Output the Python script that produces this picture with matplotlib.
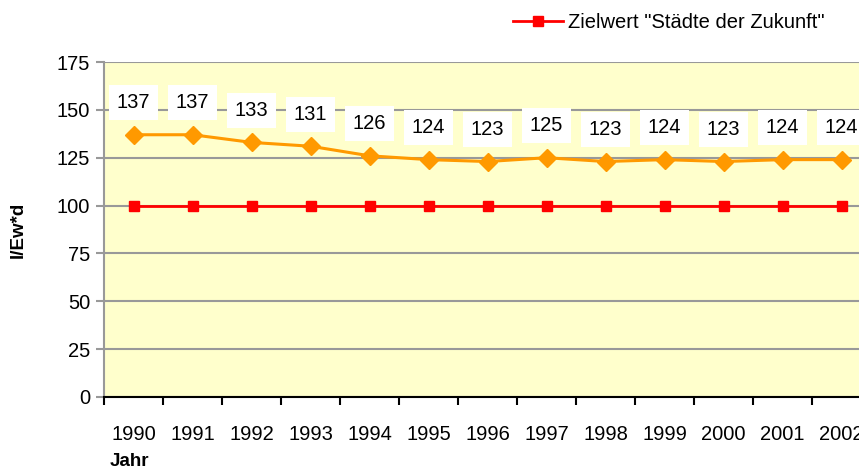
import numpy as np
import matplotlib
matplotlib.use("Agg")
import matplotlib.pyplot as plt

plt.rcParams['font.family'] = ['Liberation Sans', 'DejaVu Sans']

# Daten
jahre = ["1990", "1991", "1992", "1993", "1994", "1995", "1996",
         "1997", "1998", "1999", "2000", "2001", "2002"]
verbrauch = [137, 137, 133, 131, 126, 124, 123, 125, 123, 124, 123, 124, 124]
zielwert = [100] * len(jahre)

fig = plt.figure(figsize=(8.59, 4.72), dpi=100)
# Plotbereich ragt rechts über den Bildrand hinaus
ax = fig.add_axes([104 / 859, 1 - 397 / 472, 767 / 859, 335 / 472])
ax.set_facecolor('#FFFFCC')

x = np.arange(len(jahre))
ax.plot(x, verbrauch, color='#FF9900', lw=2.2, marker='D', ms=9,
        mec='#FF9900', mfc='#FF9900', zorder=4)
ax.plot(x, zielwert, color='#FF0000', lw=2, marker='s', ms=7,
        mec='#FF0000', mfc='#FF0000', zorder=3,
        label='Zielwert "Städte der Zukunft"')

for xi, v in zip(x, verbrauch):
    ax.annotate(str(v), (xi, v), xytext=(0, 23), textcoords='offset points',
                ha='center', va='center', fontsize=14.5, zorder=5,
                bbox=dict(boxstyle='square,pad=0.4', fc='white', ec='none'))

ax.set_xlim(-0.5, len(jahre) - 0.5)
ax.set_ylim(0, 175)
ax.set_yticks(np.arange(0, 176, 25))
ax.yaxis.grid(True, color='#999999', lw=1.5)
ax.set_axisbelow(True)

ax.set_xticks(np.arange(-0.5, len(jahre), 1))
ax.set_xticklabels([])
ax.set_xticks(x, minor=True)
ax.set_xticklabels(jahre, minor=True)
ax.tick_params(axis='x', which='major', length=6, width=1.5, color='black')
ax.tick_params(axis='x', which='minor', length=0, pad=20, labelsize=14.5)
ax.tick_params(axis='y', length=6, width=1.5, color='#999999', labelsize=14.5, pad=4)

ax.spines['left'].set_color('#999999')
ax.spines['left'].set_linewidth(1.5)
ax.spines['bottom'].set_color('black')
ax.spines['bottom'].set_linewidth(1.5)
ax.spines['top'].set_visible(False)
ax.spines['right'].set_visible(False)

fig.text(18 / 859, 1 - 230 / 472, 'l/Ew*d', rotation=90, ha='center', va='center',
         fontsize=13.5, fontweight='bold')
fig.text(110 / 859, 1 - 462 / 472, 'Jahr', ha='left', va='center',
         fontsize=13.5, fontweight='bold')

fig.legend(loc='center left', bbox_to_anchor=(513 / 859, 1 - 23 / 472),
           frameon=False, fontsize=14.5, handlelength=2.5, handletextpad=0.25,
           borderpad=0, borderaxespad=0)

fig.savefig('out.png', dpi=100)
